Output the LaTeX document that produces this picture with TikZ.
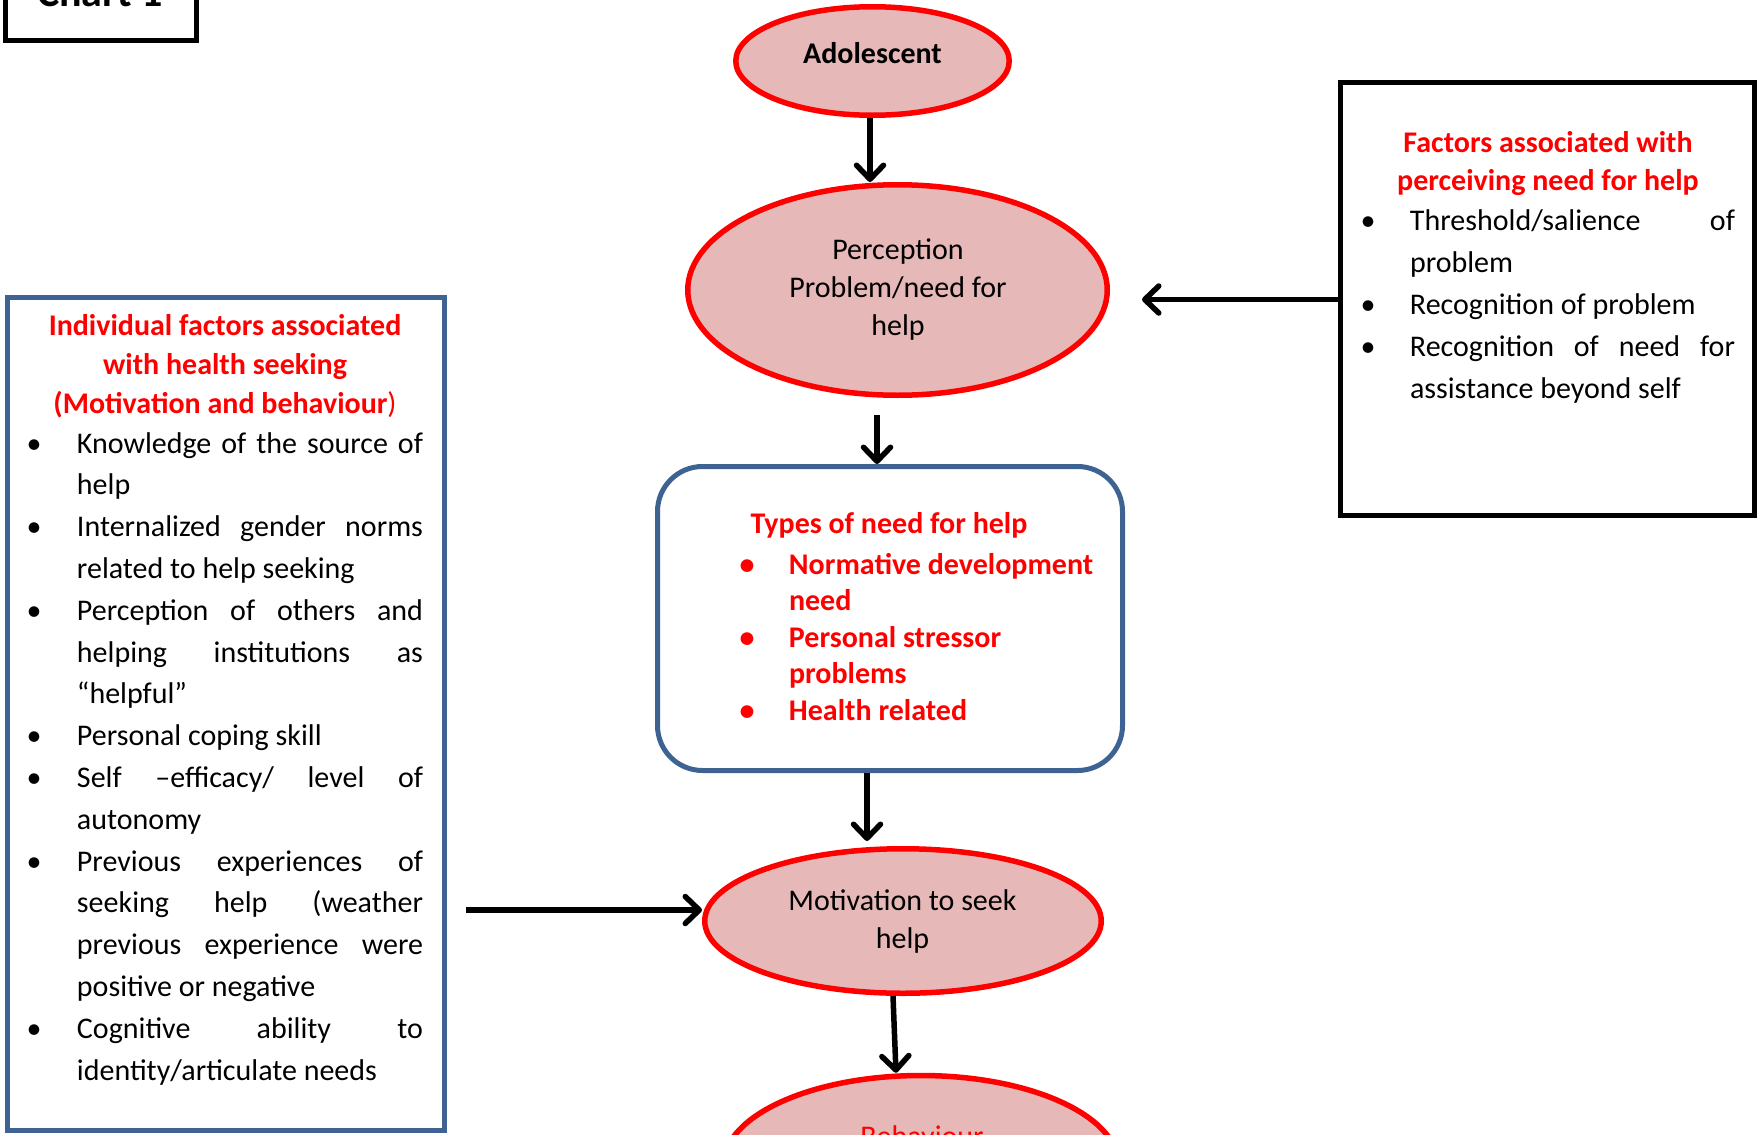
\documentclass[tikz,border=0pt]{standalone}
\usepackage{fontspec}
\setmainfont{Carlito}
\usetikzlibrary{arrows.meta,shapes.geometric}
\definecolor{ellfill}{RGB}{230,184,183}
\definecolor{boxblue}{RGB}{62,99,146}
\newlength\bw
\newlength\lw
\newcommand\bodyfont{\fontsize{30}{41.8}\selectfont}
\newcommand\bul{\hbox to 0pt{\hss\textbullet\hss}}
\newcommand\JB[1]{\hbox{\hbox to \bw{\bul\hfil}\hbox to \lw{#1}}}
\newcommand\LB[1]{\hbox{\hbox to \bw{\bul\hfil}\hbox to \lw{#1\hfil}}}
\newcommand\JL[1]{\hbox{\hskip\bw\hbox to \lw{#1}}}
\newcommand\LL[1]{\hbox{\hskip\bw\hbox to \lw{#1\hfil}}}
\newcommand\CL[1]{\hbox to 0pt{\hss#1\hss}}
\begin{document}
\begin{tikzpicture}[x=1pt,y=-1pt,
  ell/.style={ellipse, draw=red, line width=5.5pt, fill=ellfill, inner sep=0pt},
  arr/.style={line width=5.5pt, -{Straight Barb[length=14pt,width=27pt,round]}},
  txt/.style={inner sep=0pt, outer sep=0pt, anchor=base west},
  ctxt/.style={inner sep=0pt, outer sep=0pt, anchor=base}]
\clip (0,0) rectangle (1759,1135);
\useasboundingbox (0,0) rectangle (1759,1135);

% Chart 1 box
\node[draw, line width=5pt, minimum width=191pt, minimum height=100pt, inner sep=0pt] (chart) at (101,-9.5) {};
\node[ctxt] (charttxt) at (100,6) {\fontsize{42}{42}\selectfont\bfseries Chart 1};

% ellipses
\node[ell, minimum width=273.5pt, minimum height=108.5pt] (ado) at (872.5,61) {};
\node[ctxt] (adotxt) at (872.5,63) {\fontsize{30}{36}\selectfont\bfseries Adolescent};

\node[ell, minimum width=419.5pt, minimum height=210.5pt] (perc) at (897.5,290) {};
\node[ctxt] (perctxt) at (898,259) {\vtop{\fontsize{30}{38}\selectfont\CL{Perception}\CL{Problem/need for}\CL{help}}};

\node[ell, minimum width=396.5pt, minimum height=144.5pt] (motiv) at (903,921) {};
\node[ctxt] (motivtxt) at (902.5,910) {\vtop{\fontsize{30}{38}\selectfont\CL{Motivation to seek}\CL{help}}};

\node[ell, minimum width=395pt, minimum height=179pt] (beh) at (921,1165) {};
\node[ctxt, text=red] (behtxt) at (922,1146) {\fontsize{30}{36}\selectfont Behaviour};

% Types box
\node[draw=boxblue, line width=5pt, rounded corners=45pt, minimum width=465pt, minimum height=304pt, fill=white, inner sep=0pt] (types) at (890,618.5) {};
\node[ctxt, text=red] (typestitle) at (889,533) {\fontsize{30}{36}\selectfont\bfseries Types of need for help};
\node[txt, text=red] (typeslist) at (747,574) {\vtop{\fontsize{30}{36.6}\selectfont\bfseries\setlength\bw{42pt}\setlength\lw{330pt}%
  \LB{Normative development}\LL{need}\LB{Personal stressor}\LL{problems}\LB{Health related}}};

% Right box
\node[draw, line width=5pt, minimum width=414pt, minimum height=433pt, inner sep=0pt] (rbox) at (1547.5,299) {};
\node[ctxt, text=red] (rtitle) at (1548,152) {\vtop{\fontsize{30}{38.3}\selectfont\bfseries\CL{Factors associated with}\CL{perceiving need for help}}};
\node[txt] (rlist) at (1368,230) {\vtop{\fontsize{30}{42}\selectfont\setlength\bw{42pt}\setlength\lw{325pt}%
  \JB{Threshold/salience of}\LL{problem}\LB{Recognition of problem}\JB{Recognition of need for}\LL{assistance beyond self}}};

% Left box
\node[draw=boxblue, line width=5pt, minimum width=437pt, minimum height=833pt, inner sep=0pt] (lbox) at (226,714) {};
\node[ctxt, text=red] (ltitle) at (225,335) {\vtop{\fontsize{30}{39}\selectfont\bfseries\CL{Individual factors associated}\CL{with health seeking}\CL{(Motivation and behaviour\mdseries)}}};
\node[txt] (llist) at (34,453) {\vtop{\bodyfont\setlength\bw{43pt}\setlength\lw{346pt}%
  \JB{Knowledge of the source of}\LL{help}%
  \JB{Internalized gender norms}\LL{related to help seeking}%
  \JB{Perception of others and}\JL{helping institutions as}\LL{“helpful”}%
  \LB{Personal coping skill}%
  \JB{Self –efficacy/ level of}\LL{autonomy}%
  \JB{Previous experiences of}\JL{seeking help (weather}\JL{previous experience were}\LL{positive or negative}%
  \JB{Cognitive ability to}\LL{identity/articulate needs}}};

% connectors
\draw[arr] ([xshift=-2.5pt]ado.south) coordinate (a1) -- (a1 |- perc.north);
\draw[arr] ([shift={(-20.5,17)}]perc.south) coordinate (a2) -- (a2 |- types.north);
\coordinate (a3end) at (867,841);
\draw[arr] (types.south -| a3end) -- (a3end);
\draw[arr] ([shift={(-10,0)}]motiv.south) -- ([shift={(-25,0)}]beh.north);
\coordinate (lstart) at (466,910);
\draw[arr] (lstart) -- (lstart -| motiv.west);
\coordinate (rtip) at (1142,299.5);
\draw[arr] (rtip -| rbox.west) -- (rtip);
\end{tikzpicture}
\end{document}
